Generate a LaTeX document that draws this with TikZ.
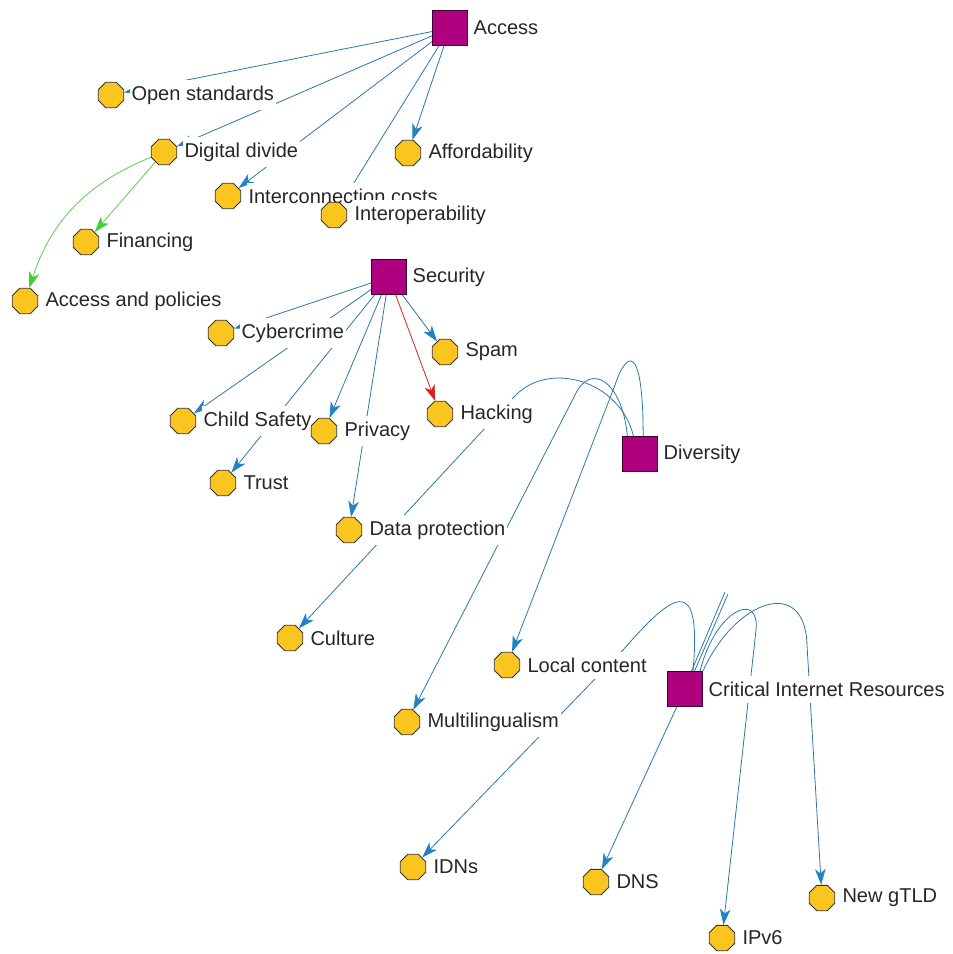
\documentclass[tikz,border=0pt]{standalone}
\usepackage{fontspec}
\setmainfont{Liberation Sans}
\usetikzlibrary{positioning, shapes.geometric, arrows.meta}
\definecolor{IssueFill}{RGB}{249,197,30}
\definecolor{TopicFill}{RGB}{175,0,128}
\definecolor{TopicDraw}{RGB}{60,0,45}
\definecolor{LinkBlue}{RGB}{40,120,165}
\definecolor{TipBlue}{RGB}{35,130,195}
\definecolor{LinkGreen}{RGB}{90,205,80}
\definecolor{TipGreen}{RGB}{60,210,50}
\definecolor{LinkRed}{RGB}{215,35,30}
\pgfdeclarelayer{links}
\pgfsetlayers{links,main}
\tikzset{
    issue/.style={regular polygon, regular polygon sides=8, minimum size=0.55cm,
        inner sep=0pt, draw=black!80, fill=IssueFill, line width=0.5pt},
    topic/.style={rectangle, minimum size=0.7cm, inner sep=0pt,
        draw=TopicDraw, fill=TopicFill, line width=0.6pt},
    issue label/.style={fill=white, inner xsep=1pt, inner ysep=3.5pt, text=black!85,
        font=\fontsize{11.4}{13}\selectfont, right=3pt of #1},
    topic label/.style={issue label=#1, right=2pt of #1},
    link/.style={draw=LinkBlue, line width=0.45pt,
        -{Stealth[length=9pt, width=6pt, inset=2.5pt, color=TipBlue]}},
    green link/.style={draw=LinkGreen, line width=0.45pt,
        -{Stealth[length=9pt, width=6pt, inset=2.5pt, color=TipGreen]}},
    red link/.style={draw=LinkRed, line width=0.45pt,
        -{Stealth[length=9pt, width=6pt, inset=2.5pt, color=LinkRed]}}
}

\begin{document}
\begin{tikzpicture}[x=0.02cm, y=-0.02cm]
\useasboundingbox (0,0) rectangle (953,954);

% Access
\node[topic] (access) at (450,28) {};
\node[topic label=access] {Access};
\node[issue] (open) at (111,95) {};
\node[issue label=open] {Open standards};
\node[issue] (divide) at (164,152) {};
\node[issue label=divide] {Digital divide};
\node[issue] (afford) at (408,153) {};
\node[issue label=afford] {Affordability};
\node[issue] (intercon) at (228,196) {};
\node[issue label=intercon] {Interconnection costs};
\node[issue] (interop) at (334,215) {};
\node[issue label=interop] {Interoperability};
\node[issue] (financ) at (86,242) {};
\node[issue label=financ] {Financing};
\node[issue] (accpol) at (25,301) {};
\node[issue label=accpol] {Access and policies};

% Security
\node[topic] (security) at (389,277) {};
\node[topic label=security] {Security};
\node[issue] (cyber) at (221,333) {};
\node[issue label=cyber] {Cybercrime};
\node[issue] (spam) at (445,352) {};
\node[issue label=spam] {Spam};
\node[issue] (child) at (183,421) {};
\node[issue label=child] {Child Safety};
\node[issue] (privacy) at (324,431) {};
\node[issue label=privacy] {Privacy};
\node[issue] (hacking) at (440,414) {};
\node[issue label=hacking] {Hacking};
\node[issue] (trust) at (223,483) {};
\node[issue label=trust] {Trust};
\node[issue] (dataprot) at (349,530) {};
\node[issue label=dataprot] {Data protection};

% Diversity
\node[topic] (diversity) at (640,454) {};
\node[topic label=diversity] {Diversity};
\node[issue] (culture) at (290,638) {};
\node[issue label=culture] {Culture};
\node[issue] (local) at (507,665) {};
\node[issue label=local] {Local content};
\node[issue] (multi) at (407,722) {};
\node[issue label=multi] {Multilingualism};

% Critical Internet Resources
\node[topic] (cir) at (685,689) {};
\node[topic label=cir] {Critical Internet Resources};
\node[issue] (idns) at (413,867) {};
\node[issue label=idns] {IDNs};
\node[issue] (dns) at (596,882) {};
\node[issue label=dns] {DNS};
\node[issue] (ipv6) at (722,938) {};
\node[issue label=ipv6] {IPv6};
\node[issue] (gtld) at (822,898) {};
\node[issue label=gtld] {New gTLD};

\coordinate (stubA) at (725,592);
\coordinate (stubB) at (728,594);

\begin{pgfonlayer}{links}
\foreach \t in {open, divide, intercon, interop, afford}
    \draw[link] (access) -- (\t);
\draw[green link] (divide) -- (financ);
\draw[green link] (divide) to[bend right=25] (accpol);

\foreach \t in {cyber, child, trust, privacy, dataprot, spam}
    \draw[link] (security) -- (\t);
\draw[red link] (security) -- (hacking);

\draw[link] (diversity.110) .. controls (620,380) and (547,359) .. (513,398) -- (culture);
\draw[link] (diversity.125) .. controls (622,380) and (590,362) .. (575,395) -- (multi);
\draw[link] (diversity.80) .. controls (643,340) and (626,352) .. (615,385) -- (local);

\draw[link] (cir.66) .. controls (702,570) and (672,594) .. (623,650) -- (idns);
\draw[link] (cir) -- (dns);
\draw[link] (cir.50) .. controls (715,610) and (760,590) .. (756,630) -- (ipv6);
\draw[link] (cir.45) .. controls (735,600) and (805,575) .. (807,645) -- (gtld);
\draw[draw=LinkBlue, line width=0.45pt] (cir.70) -- (stubA);
\draw[draw=LinkBlue, line width=0.45pt] (cir.62) -- (stubB);
\end{pgfonlayer}
\end{tikzpicture}
\end{document}
